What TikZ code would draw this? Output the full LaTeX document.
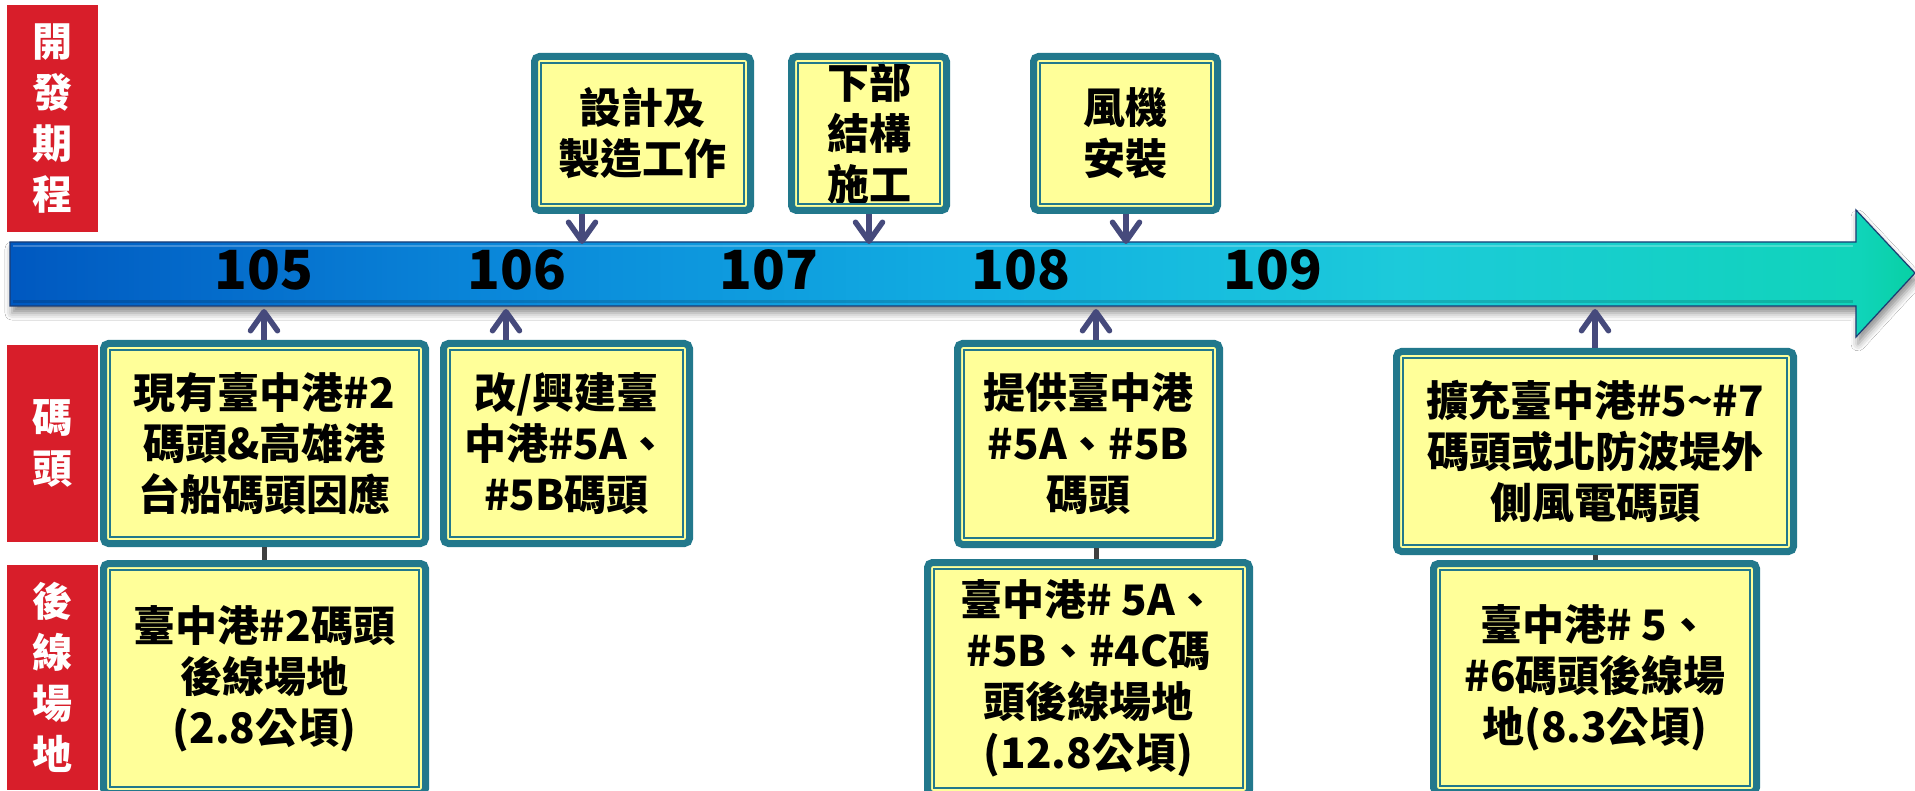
\documentclass[tikz,border=0pt]{standalone}
\usepackage{fontspec}
\setmainfont{Noto Sans CJK TC}
\usetikzlibrary{arrows.meta,shadows.blur}
\definecolor{lblred}{HTML}{D81E2A}
\definecolor{boxteal}{HTML}{22788C}
\definecolor{boxyellow}{HTML}{FFFF99}
\definecolor{arrowcol}{HTML}{464A7C}
\definecolor{linkgray}{HTML}{404040}
\definecolor{barline}{HTML}{1B3C74}
\definecolor{barA}{HTML}{0058C0}
\definecolor{barB}{HTML}{0A88DA}
\definecolor{barC}{HTML}{12B0E2}
\definecolor{barD}{HTML}{1CCADA}
\definecolor{barE}{HTML}{10D4BA}
\definecolor{barF}{HTML}{08D0A4}
\pgfdeclarehorizontalshading{barshade}{100bp}{color(0bp)=(barA); color(25bp)=(barA); color(38bp)=(barB); color(51bp)=(barC); color(61.5bp)=(barD); color(73.5bp)=(barE); color(75bp)=(barF); color(100bp)=(barF)}
\tikzset{
  ybox/.style={draw=boxteal, line width=7pt, fill=boxyellow, rounded corners=5pt, inner sep=0pt, align=center, text=black, font=\fontsize{42pt}{51pt}\selectfont\bfseries},
  innerline/.style={draw=boxteal, line width=1.8pt},
  redlbl/.style={fill=lblred, text=white, inner sep=0pt, align=center, minimum width=91pt, font=\fontsize{40pt}{51pt}\selectfont\bfseries},
  yearlbl/.style={anchor=base, inner sep=0pt, text=black, font=\fontsize{54pt}{54pt}\selectfont\bfseries},
  conarrow/.style={draw=arrowcol, line width=5.5pt, -{Straight Barb[round, length=19pt, width=27pt]}},
  linkline/.style={draw=linkgray, line width=5pt},
}
\newcommand\yboxat[6]{%
  \node[ybox, minimum width=#4pt-7pt, minimum height=#5pt-7pt] (#1) at (#2,#3) {#6};
  \draw[innerline] ([shift={(10pt,-10pt)}]#1.north west) rectangle ([shift={(-10pt,10pt)}]#1.south east);
}
\begin{document}
\begin{tikzpicture}[x=1pt,y=-1pt]
\useasboundingbox (0,0) rectangle (1915,791);
\fill[white] (0,0) rectangle (1915,791);
\clip (0,0) rectangle (1915,791);

% red side labels
\node[redlbl, minimum height=227pt] (R1) at (52.5,118.5) {開\\發\\期\\程};
\node[redlbl, minimum height=197pt] (R2) at (52.5,443.5) {碼\\頭};
\node[redlbl, minimum height=225pt] (R3) at (52.5,677.5) {後\\線\\場\\地};

% timeline bar
\shadedraw[shading=barshade, draw=barline, line width=1.2pt,
  blur shadow={shadow xshift=2pt, shadow yshift=-7pt, shadow blur radius=7pt, shadow opacity=45}]
  (10,242) -- (1856,242) -- (1856,210) -- (1915,273) -- (1856,337) -- (1856,306) -- (10,306) -- cycle;
\draw[white, opacity=0.25, line width=2pt] (13,246) -- (1853,246);
\draw[black, opacity=0.15, line width=3pt] (13,302) -- (1853,302);

\node[yearlbl] (y105) at (264,290) {105};
\node[yearlbl] (y106) at (517,290) {106};
\node[yearlbl] (y107) at (769,290) {107};
\node[yearlbl] (y108) at (1021,290) {108};
\node[yearlbl] (y109) at (1273,290) {109};

% arrow ends on the bar
\coordinate (d1) at (582,244);
\coordinate (d2) at (869,244);
\coordinate (d3) at (1126,244);
\coordinate (u1) at (264,309);
\coordinate (u2) at (506,309);
\coordinate (u3) at (1096,309);
\coordinate (u4) at (1595,309);

% boxes
\yboxat{T1}{642.5}{133.5}{223}{161}{設計及\\製造工作}
\yboxat{T2}{869}{133.5}{162}{161}{下部\\結構\\施工}
\yboxat{T3}{1125.5}{133.5}{191}{161}{風機\\安裝}
\yboxat{B1}{264.5}{443.5}{329}{207}{現有臺中港\#2\\碼頭\&高雄港\\台船碼頭因應}
\yboxat{B2}{566.5}{443.5}{253}{207}{改/興建臺\\中港\#5A、\\\#5B碼頭}
\yboxat{B3}{1088.5}{444}{269}{208}{提供臺中港\\\#5A、\#5B\\碼頭}
\yboxat{B4}{1595}{451.5}{404}{207}{擴充臺中港\#5\textasciitilde\#7\\碼頭或北防波堤外\\側風電碼頭}
\yboxat{L1}{264.5}{678.5}{329}{237}{臺中港\#2碼頭\\後線場地\\(2.8公頃)}
\yboxat{L2}{1088.5}{678.5}{329}{239}{臺中港\# 5A、\\\#5B、\#4C碼\\頭後線場地\\(12.8公頃)}
\yboxat{L3}{1595}{678}{330}{236}{臺中港\# 5、\\\#6碼頭後線場\\地(8.3公頃)}

% connectors
\draw[conarrow] (T1.south -| d1) -- (d1);
\draw[conarrow] (T2.south -| d2) -- (d2);
\draw[conarrow] (T3.south -| d3) -- (d3);
\draw[conarrow] (B1.north -| u1) -- (u1);
\draw[conarrow] (B2.north -| u2) -- (u2);
\draw[conarrow] (B3.north -| u3) -- (u3);
\draw[conarrow] (B4.north -| u4) -- (u4);
\draw[linkline] (B1.south -| u1) -- (L1.north -| u1);
\draw[linkline] (B3.south -| u3) -- (L2.north -| u3);
\draw[linkline] (B4.south -| u4) -- (L3.north -| u4);
\end{tikzpicture}
\end{document}
